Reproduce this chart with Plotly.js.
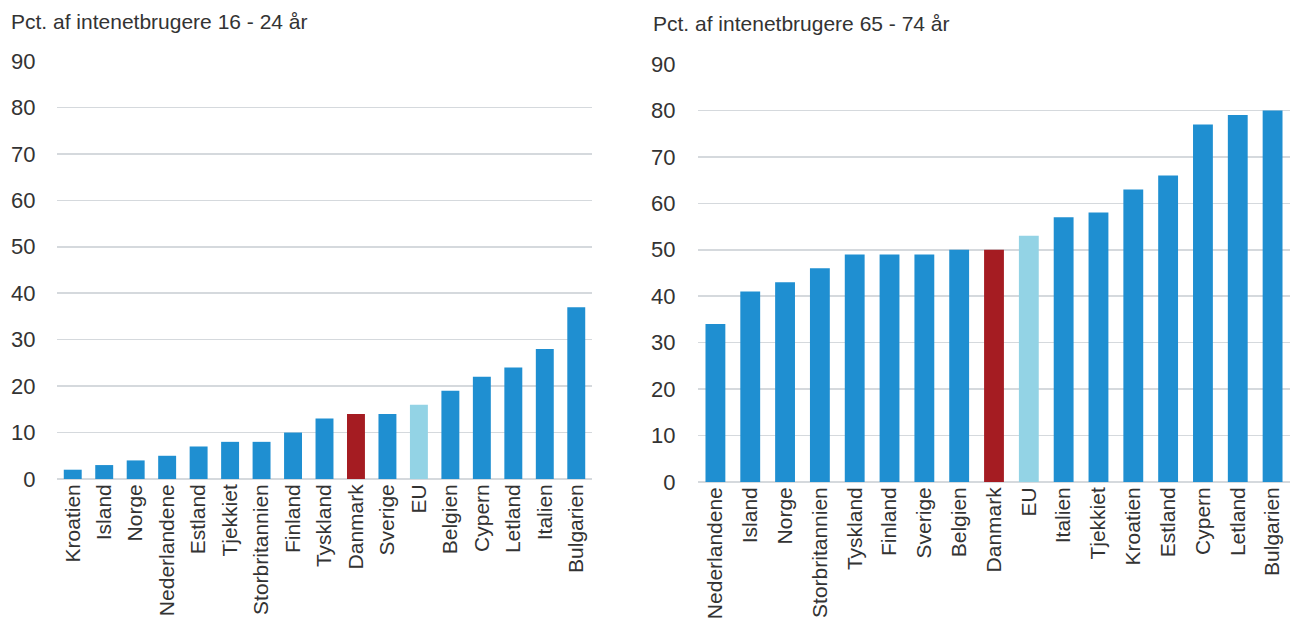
<!DOCTYPE html>
<html><head><meta charset="utf-8">
<script src="https://cdn.plot.ly/plotly-3.0.1.min.js"></script>
<style>body{margin:0;background:#fff}#c{width:1296px;height:624px}</style>
</head><body><div id="c"></div>
<script>
const catsYoung = ["Kroatien","Island","Norge","Nederlandene","Estland","Tjekkiet","Storbritannien","Finland","Tyskland","Danmark","Sverige","EU","Belgien","Cypern","Letland","Italien","Bulgarien"];
const valsYoung = [2,3,4,5,7,8,8,10,13,14,14,16,19,22,24,28,37];
const catsOld = ["Nederlandene","Island","Norge","Storbritannien","Tyskland","Finland","Sverige","Belgien","Danmark","EU","Italien","Tjekkiet","Kroatien","Estland","Cypern","Letland","Bulgarien"];
const valsOld = [34,41,43,46,49,49,49,50,50,53,57,58,63,66,77,79,80];
const titleYoung = "Pct. af intenetbrugere 16 - 24 år";
const titleOld = "Pct. af intenetbrugere 65 - 74 år";
const yTicks = [0,10,20,30,40,50,60,70,80,90];

const BLUE = "#1f8fd1", RED = "#a51c22", LIGHT = "#93d3e5";
function colors(cats){ return cats.map(c => c === "Danmark" ? RED : (c === "EU" ? LIGHT : BLUE)); }

const FONT = "'Liberation Sans', Arial, sans-serif";
const H = 624, W = 1296;

const traces = [
  {type:"bar", x:catsYoung, y:valsYoung, marker:{color:colors(catsYoung)}, xaxis:"x", yaxis:"y", hoverinfo:"x+y"},
  {type:"bar", x:catsOld, y:valsOld, marker:{color:colors(catsOld)}, xaxis:"x2", yaxis:"y2", hoverinfo:"x+y"}
];

function yax(dom, anchor, tl){
  return {domain:dom, anchor:anchor, range:[0,90], tickvals:yTicks, ticktext:yTicks.map(String),
    showgrid:true, gridcolor:"#d5d9dd", gridwidth:1.5, zeroline:true, zerolinecolor:"#d5d9dd", zerolinewidth:1.5,
    ticks:"outside", ticklen:tl, tickcolor:"rgba(0,0,0,0)", showline:false,
    tickfont:{family:FONT, size:22, color:"#333"}, automargin:false, fixedrange:true};
}
function xax(dom, anchor){
  return {domain:dom, anchor:anchor, tickangle:-90, showgrid:false, showline:false, zeroline:false,
    ticks:"", tickfont:{family:FONT, size:21, color:"#333"}, automargin:false, fixedrange:true};
}

const layout = {
  width:W, height:H, margin:{l:0,r:0,t:0,b:0}, showlegend:false,
  paper_bgcolor:"#fff", plot_bgcolor:"#fff", bargap:0.43,
  font:{family:FONT, color:"#333"},
  xaxis: xax([57/W, 592/W], "y"),
  yaxis: yax([(H-479)/H, (H-61)/H], "x", 16),
  xaxis2: xax([698/W, 1290/W], "y2"),
  yaxis2: yax([(H-482)/H, (H-64)/H], "x2", 17),
  annotations:[
    {text:titleYoung, xref:"paper", yref:"paper", x:9/W, y:1-22/H, xanchor:"left", yanchor:"middle", showarrow:false, font:{family:FONT, size:21, color:"#333"}},
    {text:titleOld, xref:"paper", yref:"paper", x:651/W, y:1-24/H, xanchor:"left", yanchor:"middle", showarrow:false, font:{family:FONT, size:21, color:"#333"}}
  ]
};
Plotly.newPlot("c", traces, layout, {displayModeBar:false, staticPlot:true});
</script></body></html>
